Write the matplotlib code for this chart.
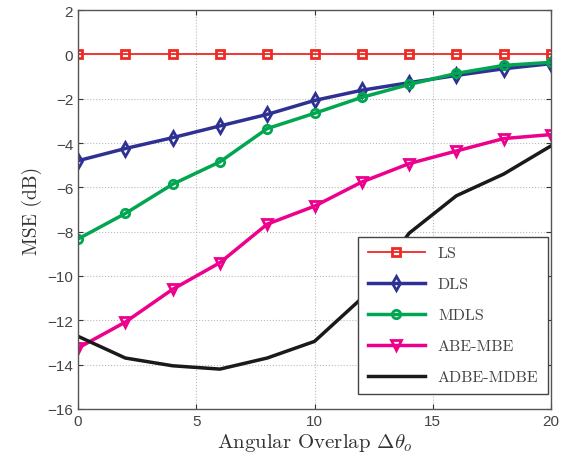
import numpy as np
import matplotlib
matplotlib.use("Agg")
import matplotlib.pyplot as plt

plt.rcParams['mathtext.fontset'] = 'cm'

overlap = [0, 2, 4, 6, 8, 10, 12, 14, 16, 18, 20]
mse_ls = [0, 0, 0, 0, 0, 0, 0, 0, 0, 0, 0]
mse_dls = [-4.8, -4.25, -3.76, -3.23, -2.71, -2.08, -1.62, -1.28, -0.95, -0.65, -0.42]
mse_mdls = [-8.33, -7.18, -5.86, -4.85, -3.35, -2.66, -1.94, -1.36, -0.86, -0.5, -0.36]
mse_abe = [-13.25, -12.08, -10.6, -9.4, -7.66, -6.85, -5.76, -4.93, -4.36, -3.8, -3.62]
mse_adbe = [-12.72, -13.7, -14.05, -14.2, -13.7, -12.95, -11.0, -8.07, -6.38, -5.4, -4.13]

tick_font = 'Liberation Sans'
lab_font = 'cmr10'

fig = plt.figure(figsize=(5.61, 4.60), dpi=100)
ax = fig.add_axes([78 / 561, 50 / 460, 473 / 561, 399 / 460])

ax.plot(overlap, mse_ls, color='#ee2a24', lw=1.3, marker='s', ms=6,
        mfc='none', mew=2, label='LS')
ax.plot(overlap, mse_dls, color='#2e3192', lw=2.5, marker='d', ms=7,
        mfc='none', mew=2, label='DLS')
ax.plot(overlap, mse_mdls, color='#00a650', lw=2.5, marker='o', ms=6,
        mfc='none', mew=2, label='MDLS')
ax.plot(overlap, mse_abe, color='#ec008c', lw=2.5, marker='v', ms=7,
        mfc='none', mew=2, label='ABE-MBE')
ax.plot(overlap, mse_adbe, color='#1a1a1a', lw=2.5, label='ADBE-MDBE')

ax.set_xlim(0, 20)
ax.set_ylim(-16, 2)
ax.set_xticks([0, 5, 10, 15, 20])
ax.set_yticks(np.arange(-16, 3, 2))
ax.grid(True, linestyle=':', color='#bbbbbb', lw=0.8)
ax.tick_params(direction='in', top=True, right=True, labelsize=11,
               colors='#333333', labelcolor='#444444')
for lbl in ax.get_xticklabels() + ax.get_yticklabels():
    lbl.set_fontfamily(tick_font)
for sp in ax.spines.values():
    sp.set_color('#555555')
    sp.set_linewidth(1.0)

ax.set_xlabel(r'Angular Overlap $\Delta\theta_o$', fontfamily=lab_font,
              fontsize=15, color='#333333', labelpad=2)
ax.set_ylabel('MSE (dB)', fontfamily=lab_font, fontsize=14,
              color='#333333', labelpad=4)

leg = ax.legend(loc='lower right', bbox_to_anchor=(0.994, 0.038),
                borderaxespad=0, fancybox=False, framealpha=1,
                edgecolor='#444444', handlelength=3.6, labelspacing=1.05,
                borderpad=0.6, prop={'family': lab_font, 'size': 11.5})
leg.get_frame().set_linewidth(1.0)
for t in leg.get_texts():
    t.set_color('#444444')

fig.savefig('out.png', dpi=100)
